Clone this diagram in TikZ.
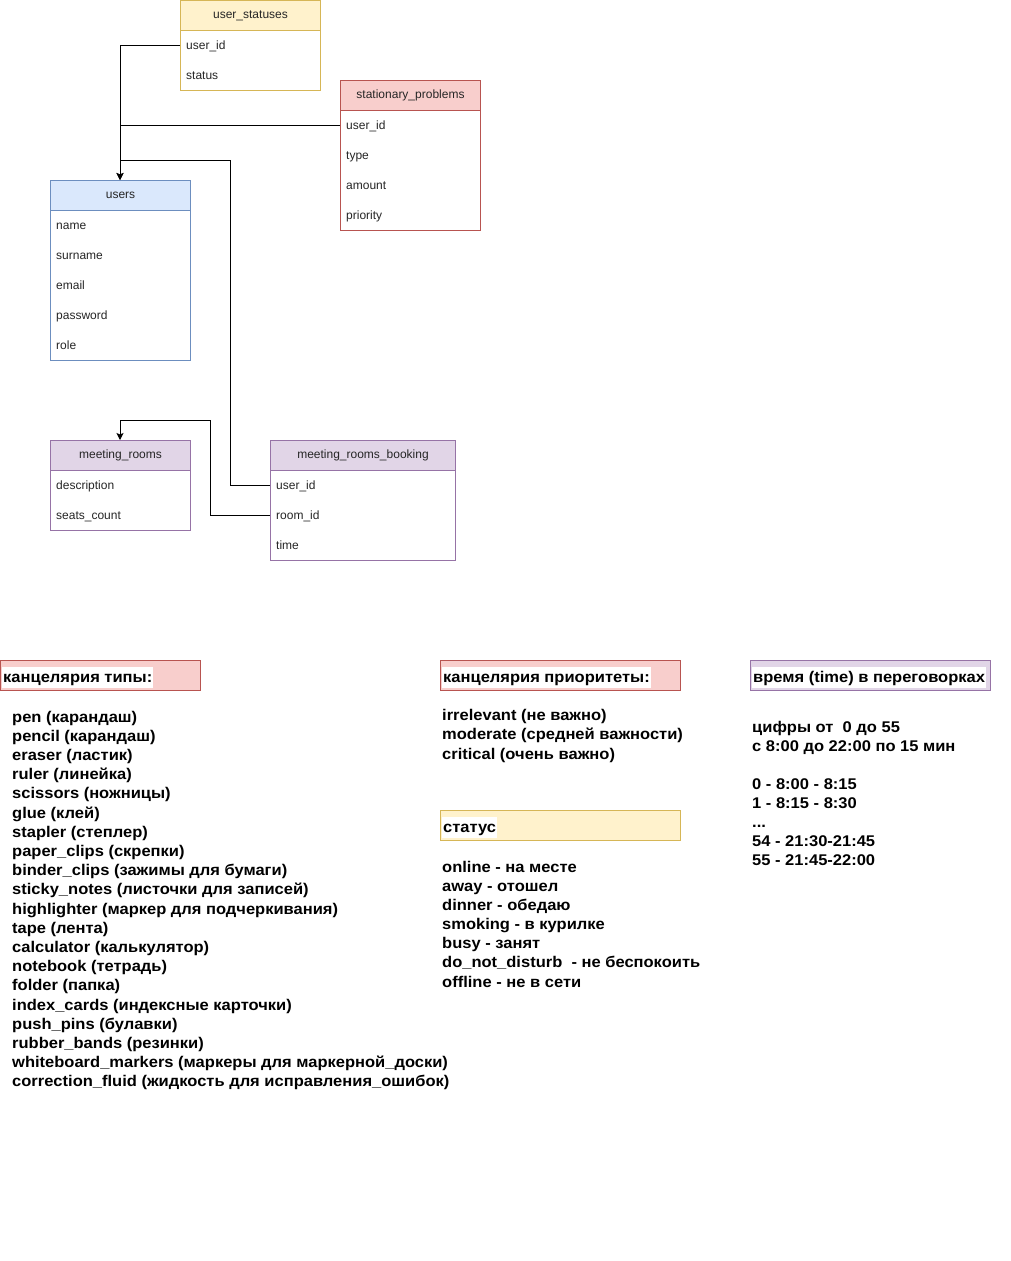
\documentclass[tikz,border=0pt]{standalone}
\usepackage{fontspec}
\setmainfont{Liberation Sans}
\newfontfamily\notefont[FakeStretch=1.065]{Liberation Sans}
\usetikzlibrary{arrows.meta}
\definecolor{yelF}{HTML}{FFF2CC}\definecolor{yelD}{HTML}{D6B656}
\definecolor{redF}{HTML}{F8CECC}\definecolor{redD}{HTML}{B85450}
\definecolor{bluF}{HTML}{DAE8FC}\definecolor{bluD}{HTML}{6C8EBF}
\definecolor{purF}{HTML}{E1D5E7}\definecolor{purD}{HTML}{9673A6}
\newcommand{\threedots}{.\kern0pt.\kern0pt.}
\begin{document}
\begin{tikzpicture}[x=1pt,y=-1pt,
  hdr/.style={draw, line width=1pt, minimum height=30pt, anchor=north west, inner sep=0pt, font=\fontsize{12}{14}\selectfont, text=black!85},
  body/.style={draw, line width=1pt, fill=white},
  fld/.style={anchor=base west, inner sep=0pt, font=\fontsize{12}{14}\selectfont, text=black!85},
  conn/.style={draw=black, line width=1pt},
  arr/.style={-{Stealth[length=7pt,width=7pt,inset=1.5pt]}},
  box/.style={draw, line width=1pt, minimum height=30pt, anchor=north west, inner sep=0pt},
  boxtxt/.style={anchor=base west, fill=white, inner xsep=1pt, inner ysep=1pt, text height=14pt, text depth=5pt, font=\fontsize{15.5}{19}\selectfont\notefont\bfseries},
  lst/.style={anchor=base west, inner sep=0pt, font=\fontsize{15.5}{19}\selectfont\notefont\bfseries}]
\useasboundingbox (0,0) rectangle (1011,1261);

% ---------- tables ----------
% user_statuses
\draw[body, draw=yelD] (180,0) rectangle (320,90);
\node[hdr, fill=yelF, draw=yelD, minimum width=140pt] (us) at (180,0) {user\_statuses};
\node[fld] (us1) at (186,49) {user\_id};
\node[fld] (us2) at (186,79) {status};
\coordinate (usuid) at (180,45);

% stationary_problems
\draw[body, draw=redD] (340,80) rectangle (480,230);
\node[hdr, fill=redF, draw=redD, minimum width=140pt] (sp) at (340,80) {stationary\_problems};
\node[fld] (sp1) at (346,129) {user\_id};
\node[fld] (sp2) at (346,159) {type};
\node[fld] (sp3) at (346,189) {amount};
\node[fld] (sp4) at (346,219) {priority};
\coordinate (spuid) at (340,125);

% users
\draw[body, draw=bluD] (50,180) rectangle (190,360);
\node[hdr, fill=bluF, draw=bluD, minimum width=140pt] (u) at (50,180) {users};
\node[fld] (u1) at (56,229) {name};
\node[fld] (u2) at (56,259) {surname};
\node[fld] (u3) at (56,289) {email};
\node[fld] (u4) at (56,319) {password};
\node[fld] (u5) at (56,349) {role};

% meeting_rooms
\draw[body, draw=purD] (50,440) rectangle (190,530);
\node[hdr, fill=purF, draw=purD, minimum width=140pt] (mr) at (50,440) {meeting\_rooms};
\node[fld] (mr1) at (56,489) {description};
\node[fld] (mr2) at (56,519) {seats\_count};

% meeting_rooms_booking
\draw[body, draw=purD] (270,440) rectangle (455,560);
\node[hdr, fill=purF, draw=purD, minimum width=185pt] (mb) at (270,440) {meeting\_rooms\_booking};
\node[fld] (mb1) at (276,489) {user\_id};
\node[fld] (mb2) at (276,519) {room\_id};
\node[fld] (mb3) at (276,549) {time};
\coordinate (mbuid) at (270,485);
\coordinate (mbrid) at (270,515);

% ---------- connectors ----------
\coordinate (j1) at (230,160);
\coordinate (j2) at (210,420);
\coordinate (uin) at (120,180);
\coordinate (mrin) at (120,440);
\draw[conn, arr] (usuid) -| (uin);
\draw[conn] (spuid) -- (120,125);
\draw[conn, arr] (mbuid) -| (j1) -| (uin);
\draw[conn, arr] (mbrid) -| (j2) -| (mrin);

% ---------- notes ----------
\node[box, fill=redF, draw=redD, minimum width=200pt] (b1) at (0,660) {};
\node[boxtxt] (b1t) at (2,682) {канцелярия типы:};
\node[box, fill=redF, draw=redD, minimum width=240pt] (b2) at (440,660) {};
\node[boxtxt] (b2t) at (442,682) {канцелярия приоритеты:};
\node[box, fill=purF, draw=purD, minimum width=240pt] (b3) at (750,660) {};
\node[boxtxt] (b3t) at (752,682) {время (time) в переговорках};
\node[box, fill=yelF, draw=yelD, minimum width=240pt] (b4) at (440,810) {};
\node[boxtxt] (b4t) at (442,832) {статус};

\foreach \t [count=\i from 0] in {pen (карандаш), pencil (карандаш), eraser (ластик), ruler (линейка), scissors (ножницы), glue (клей), stapler (степлер), paper\_clips (скрепки), binder\_clips (зажимы для бумаги), sticky\_notes (листочки для записей), highlighter (маркер для подчеркивания), tape (лента), calculator (калькулятор), notebook (тетрадь), folder (папка), index\_cards (индексные карточки), push\_pins (булавки), rubber\_bands (резинки), whiteboard\_markers (маркеры для маркерной\_доски), correction\_fluid (жидкость для исправления\_ошибок)}
  \node[lst] (ta\i) at (12,{722+19.2*\i}) {\t};

\foreach \t [count=\i from 0] in {irrelevant (не важно), moderate (средней важности), critical (очень важно)}
  \node[lst] (pr\i) at (442,{720+19.5*\i}) {\t};

\foreach \t [count=\i from 0] in {online - на месте, away - отошел, dinner - обедаю, smoking - в курилке, busy - занят, do\_not\_disturb~ - не беспокоить, offline - не в сети}
  \node[lst] (st\i) at (442,{872+19.17*\i}) {\t};

\foreach \t/\i in {цифры от~ 0 до 55/0, с 8:00 до 22:00 по 15 мин/1, 0 - 8:00 - 8:15/3, 1 - 8:15 - 8:30/4, \threedots/5, 54 - 21:30-21:45/6, 55 - 21:45-22:00/7}
  \node[lst] (tm\i) at (752,{732+19.14*\i}) {\t};
\end{tikzpicture}
\end{document}
